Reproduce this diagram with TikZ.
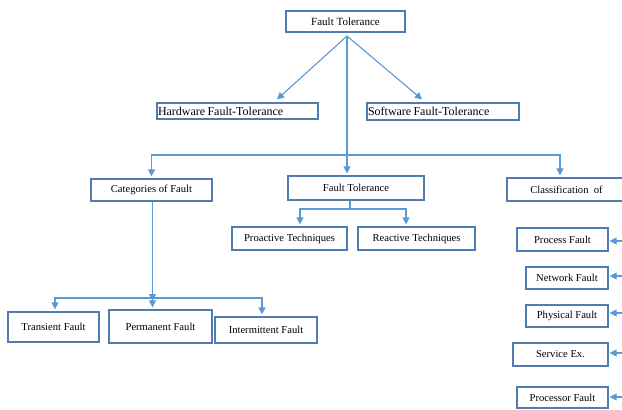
\documentclass[tikz,border=0pt]{standalone}
\usepackage{fontspec}
\setmainfont{Liberation Serif}
\usetikzlibrary{arrows.meta}
\definecolor{boxc}{RGB}{79,125,176}
\definecolor{linkc}{RGB}{91,152,212}
\newcommand\tightwords{\spaceskip=2.2pt plus 1pt\relax}
\tikzset{
  box/.style={draw=boxc, line width=1.2pt, inner sep=0pt, font=\fontsize{10.6}{12}\selectfont},
  bigbox/.style={box, font=\fontsize{11}{12}\selectfont},
  widebox/.style={box, font=\fontsize{12}{13}\selectfont, align=left, inner xsep=1pt},
  link/.style={draw=linkc, line width=1.1pt},
  arr/.style={link, -{Triangle[width=7pt,length=7pt]}},
}
\begin{document}
\begin{tikzpicture}[x=1pt,y=-1pt]
\useasboundingbox (0,0) rectangle (622,410);
% top level
\node[bigbox, minimum width=119pt, minimum height=21pt] (ft) at (345.5,21.5) {Fault Tolerance};
\node[widebox, minimum width=161pt, minimum height=16pt, text width=159pt] (hw) at (237.5,111) {\tightwords Hardware Fault-Tolerance};
\node[widebox, minimum width=152pt, minimum height=17pt, text width=150pt] (sw) at (443,111.5) {\tightwords Software Fault-Tolerance};
% second level
\node[box, minimum width=121pt, minimum height=22pt] (cat) at (151.5,190) {Categories of Fault};
\node[box, minimum width=136pt, minimum height=24pt] (ft2) at (356,188) {Fault Tolerance};
\node[box, minimum width=119pt, minimum height=23pt] (cls) at (566.5,189.5) {Classification~~of};
% techniques
\node[box, minimum width=115pt, minimum height=23pt] (pro) at (289.5,238.5) {Proactive Techniques};
\node[box, minimum width=117pt, minimum height=23pt] (rea) at (416.5,238.5) {Reactive Techniques};
% fault categories
\node[box, minimum width=91pt, minimum height=30pt] (tr) at (53.5,327) {Transient Fault};
\node[box, minimum width=103pt, minimum height=33pt] (pe) at (160.5,326.5) {Permanent Fault};
\node[box, minimum width=102pt, minimum height=26pt] (in) at (266,330) {Intermittent Fault};
% fault classes
\node[box, minimum width=91pt, minimum height=23pt] (pf) at (562.5,239.5) {Process Fault};
\node[box, minimum width=82pt, minimum height=22pt] (nf) at (567,278) {Network Fault};
\node[box, minimum width=82pt, minimum height=22pt] (phf) at (567,316) {Physical Fault};
\node[box, minimum width=95pt, minimum height=23pt] (se) at (560.5,354.5) {Service Ex.};
\node[box, minimum width=91pt, minimum height=21pt] (prf) at (562.5,397.5) {Processor Fault};

% connectors from the root
\coordinate (hub) at (347,36);
\draw[arr] (hub) -- ([xshift=39.5pt,yshift=3pt]hw.north);
\draw[arr] (hub) -- ([xshift=-21pt,yshift=3pt]sw.north);
\draw[arr] (hub) -- ([xshift=-9pt,yshift=2pt]ft2.north);
\coordinate (bar) at (347,155);
\draw[arr] (bar) -| ([yshift=2pt]cat.north);
\draw[arr] (bar) -| ([xshift=-6.5pt,yshift=2pt]cls.north);

% proactive / reactive
\coordinate (tj) at (350,209);
\draw[link] ([xshift=-6pt]ft2.south) -- (tj);
\draw[arr] (tj) -| ([xshift=10.5pt,yshift=2pt]pro.north);
\draw[arr] (tj) -| ([xshift=-10.5pt,yshift=2pt]rea.north);

% categories of fault
\coordinate (cj) at (152.5,298);
\draw[arr] ([xshift=1pt]cat.south) -- ([yshift=-3pt]cj);
\draw[link] ([yshift=-3pt]cj) -- (cj);
\draw[arr] (cj) -| ([xshift=1.5pt,yshift=2pt]tr.north);
\draw[arr] (cj) -- ([xshift=-8pt,yshift=2pt]pe.north);
\draw[arr] (cj) -| ([xshift=-4pt,yshift=2pt]in.north);

% incoming arrows from the right edge
\coordinate (e1) at (624,241);
\coordinate (e2) at (624,276);
\coordinate (e3) at (624,313);
\coordinate (e4) at (624,353);
\coordinate (e5) at (624,397);
\draw[arr] (e1) -- ([xshift=1pt]pf.east |- e1);
\draw[arr] (e2) -- ([xshift=1pt]nf.east |- e2);
\draw[arr] (e3) -- ([xshift=1pt]phf.east |- e3);
\draw[arr] (e4) -- ([xshift=1pt]se.east |- e4);
\draw[arr] (e5) -- ([xshift=1pt]prf.east |- e5);
\end{tikzpicture}
\end{document}
